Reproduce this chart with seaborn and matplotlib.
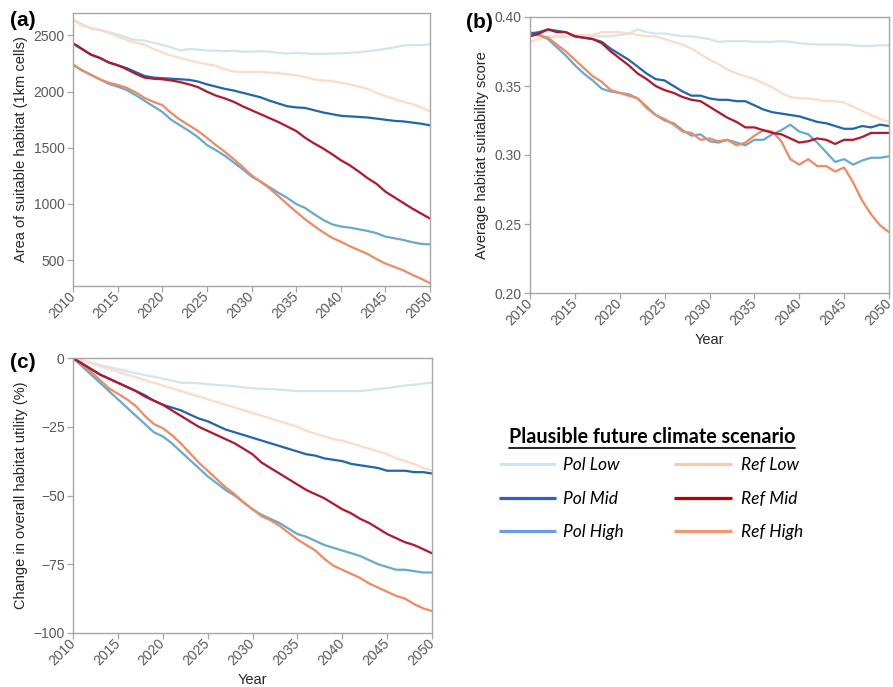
import numpy as np
import pandas as pd
import matplotlib
matplotlib.use("Agg")
import matplotlib.pyplot as plt
import seaborn as sns
from matplotlib.lines import Line2D

# ---------------- data ----------------
years = list(range(2010, 2051))
scenarios = ["Pol Low", "Pol Mid", "Pol High", "Ref Low", "Ref Mid", "Ref High"]

# (a) area of suitable habitat (1km cells)
area_pol_low = [2640, 2600, 2560, 2550, 2530, 2510, 2480, 2460, 2455, 2435, 2415, 2395, 2365, 2380, 2375,
                2365, 2365, 2360, 2365, 2355, 2355, 2360, 2355, 2345, 2340, 2345, 2340, 2335, 2335, 2340,
                2340, 2345, 2350, 2360, 2370, 2380, 2395, 2410, 2415, 2415, 2420]
area_pol_mid = [2430, 2380, 2330, 2300, 2260, 2235, 2210, 2175, 2140, 2125, 2120, 2115, 2110, 2105, 2090,
                2065, 2045, 2025, 2010, 1990, 1970, 1950, 1920, 1895, 1870, 1860, 1855, 1835, 1815, 1800,
                1785, 1780, 1775, 1770, 1760, 1750, 1740, 1735, 1725, 1715, 1700]
area_pol_high = [2240, 2190, 2150, 2110, 2070, 2045, 2015, 1970, 1920, 1870, 1820, 1750, 1700, 1650, 1595,
                 1525, 1480, 1430, 1370, 1310, 1245, 1200, 1150, 1100, 1055, 1000, 965, 910, 860, 820,
                 800, 790, 775, 760, 740, 710, 695, 680, 660, 645, 640]
area_ref_low = [2640, 2590, 2570, 2550, 2520, 2490, 2460, 2435, 2420, 2380, 2350, 2320, 2300, 2280, 2260,
                2245, 2230, 2200, 2180, 2175, 2175, 2175, 2170, 2165, 2155, 2145, 2130, 2110, 2100, 2095,
                2080, 2065, 2045, 2025, 1990, 1960, 1935, 1910, 1890, 1860, 1825]
area_ref_mid = [2430, 2380, 2330, 2300, 2260, 2235, 2200, 2160, 2125, 2115, 2110, 2100, 2085, 2065, 2040,
                2000, 1965, 1940, 1910, 1870, 1835, 1800, 1765, 1730, 1690, 1650, 1590, 1540, 1495, 1445,
                1390, 1345, 1290, 1230, 1180, 1110, 1060, 1010, 960, 915, 870]
area_ref_high = [2240, 2190, 2150, 2110, 2080, 2060, 2035, 1995, 1945, 1910, 1880, 1810, 1750, 1700, 1650,
                 1590, 1525, 1465, 1400, 1330, 1255, 1200, 1140, 1070, 1000, 930, 865, 805, 750, 700,
                 665, 625, 590, 555, 510, 470, 440, 410, 370, 335, 295]

# (b) average habitat suitability score
score_pol_low = [0.388, 0.386, 0.385, 0.386, 0.386, 0.386, 0.386, 0.386, 0.386, 0.386, 0.387, 0.388, 0.391,
                 0.389, 0.388, 0.388, 0.387, 0.386, 0.386, 0.385, 0.384, 0.382, 0.3825, 0.3825, 0.3825,
                 0.382, 0.382, 0.382, 0.3825, 0.382, 0.381, 0.3805, 0.380, 0.380, 0.380, 0.380, 0.3795,
                 0.379, 0.379, 0.3795, 0.3795]
score_pol_mid = [0.388, 0.389, 0.391, 0.390, 0.389, 0.386, 0.385, 0.384, 0.382, 0.377, 0.373, 0.369, 0.364,
                 0.359, 0.355, 0.354, 0.350, 0.346, 0.343, 0.343, 0.341, 0.340, 0.340, 0.339, 0.339,
                 0.336, 0.333, 0.331, 0.330, 0.329, 0.328, 0.326, 0.324, 0.323, 0.321, 0.319, 0.319,
                 0.321, 0.320, 0.322, 0.321]
score_pol_high = [0.389, 0.387, 0.384, 0.378, 0.372, 0.365, 0.359, 0.354, 0.348, 0.346, 0.345, 0.344, 0.341,
                  0.335, 0.329, 0.325, 0.323, 0.318, 0.314, 0.315, 0.310, 0.309, 0.311, 0.309, 0.307,
                  0.311, 0.311, 0.315, 0.318, 0.322, 0.317, 0.315, 0.309, 0.302, 0.295, 0.297, 0.293,
                  0.296, 0.298, 0.298, 0.299]
score_ref_low = [0.382, 0.384, 0.386, 0.386, 0.386, 0.387, 0.387, 0.387, 0.389, 0.389, 0.389, 0.388, 0.387,
                 0.386, 0.386, 0.384, 0.382, 0.380, 0.377, 0.373, 0.369, 0.366, 0.362, 0.359, 0.357,
                 0.355, 0.352, 0.349, 0.345, 0.342, 0.341, 0.341, 0.340, 0.339, 0.339, 0.338, 0.335,
                 0.332, 0.329, 0.326, 0.324]
score_ref_mid = [0.386, 0.388, 0.391, 0.389, 0.389, 0.386, 0.385, 0.384, 0.381, 0.375, 0.370, 0.365, 0.359,
                 0.355, 0.350, 0.347, 0.345, 0.342, 0.340, 0.339, 0.335, 0.331, 0.327, 0.324, 0.320,
                 0.320, 0.318, 0.316, 0.315, 0.312, 0.309, 0.310, 0.312, 0.311, 0.308, 0.311, 0.311,
                 0.313, 0.316, 0.316, 0.316]
score_ref_high = [0.387, 0.387, 0.385, 0.380, 0.375, 0.369, 0.363, 0.357, 0.353, 0.347, 0.345, 0.343, 0.341,
                  0.334, 0.329, 0.326, 0.322, 0.317, 0.316, 0.311, 0.312, 0.310, 0.311, 0.307, 0.309,
                  0.314, 0.318, 0.317, 0.310, 0.297, 0.293, 0.297, 0.292, 0.292, 0.288, 0.291, 0.280,
                  0.267, 0.257, 0.249, 0.244]

# (c) change in overall habitat utility (%)
change_pol_low = [0, -0.8, -1.7, -2.5, -3.3, -4, -4.8, -5.5, -6.2, -6.8, -7.5, -8.2, -9, -9, -9.2, -9.5,
                  -9.8, -10, -10.3, -10.7, -11, -11.2, -11.3, -11.5, -11.8, -12, -12, -12, -12, -12, -12,
                  -12, -12, -11.7, -11.3, -11, -10.5, -10, -9.7, -9.3, -9]
change_pol_mid = [0, -2, -4, -6, -7.5, -9, -10.5, -12, -13.5, -15.5, -17, -18, -19, -20.5, -22, -23,
                  -24.5, -26, -27, -28, -29, -30, -31, -32, -33, -34, -35, -35.5, -36.5, -37, -37.5,
                  -38.5, -39, -39.5, -40, -41, -41, -41, -41.5, -41.5, -42]
change_pol_high = [0, -3, -6, -9, -12, -15, -18, -21, -24, -27, -28.5, -31, -34, -37, -40, -43, -45.5,
                   -48, -50, -52.5, -55, -57, -58.5, -60, -62, -64, -65, -66.5, -68, -69, -70, -71, -72,
                   -73.5, -75, -76, -77, -77, -77.5, -78, -78]
change_ref_low = [0, -1, -2, -3, -4, -5, -6, -7, -8, -9, -10, -11, -12, -13, -14, -15, -16, -17, -18,
                  -19, -20, -21, -22, -23, -24, -25, -26.5, -27.5, -28.5, -29.5, -30, -31, -32, -33, -34,
                  -35, -36.5, -37.5, -38.5, -40, -41]
change_ref_mid = [0, -2, -4, -6, -7.5, -9, -10.5, -12, -14, -15.5, -17, -19, -21, -23, -25, -26.5, -28,
                  -29.5, -31, -33, -35, -38, -40, -42, -44, -46, -48, -49.5, -51, -53, -55, -56.5, -58.5,
                  -60, -62, -64, -65.5, -67, -68, -69.5, -71]
change_ref_high = [0, -2.5, -5, -8, -11, -13, -15, -17.5, -21, -24, -25.5, -28, -31, -34.5, -38, -41, -44,
                   -47, -49.5, -52.5, -55, -57.5, -59, -61, -63.5, -66, -68, -70, -73, -75.5, -77, -78.5,
                   -80, -82, -83.5, -85, -86.5, -87.5, -89.5, -91, -92]

area_ticks = [500, 1000, 1500, 2000, 2500]
score_ticks = [0.20, 0.25, 0.30, 0.35, 0.40]
change_ticks = [-100, -75, -50, -25, 0]
year_ticks = list(range(2010, 2051, 5))

line_colors = {"Pol Low": "#d1e5f0", "Pol Mid": "#2166ac", "Pol High": "#67a9cf",
               "Ref Low": "#fddbc7", "Ref Mid": "#b2182b", "Ref High": "#ef8a62"}
legend_colors = {"Pol Low": "#cce4f6", "Pol Mid": "#2d5fd0", "Pol High": "#6a9be6",
                 "Ref Low": "#f9cab0", "Ref Mid": "#c00000", "Ref High": "#f29a6c"}
draw_order = ["Pol Low", "Ref Low", "Pol High", "Ref High", "Pol Mid", "Ref Mid"]


def long_frame(series):
    rows = []
    for name, vals in zip(scenarios, series):
        rows.append(pd.DataFrame({"Year": years, "value": vals, "scenario": name}))
    return pd.concat(rows, ignore_index=True)


df_a = long_frame([area_pol_low, area_pol_mid, area_pol_high, area_ref_low, area_ref_mid, area_ref_high])
df_b = long_frame([score_pol_low, score_pol_mid, score_pol_high, score_ref_low, score_ref_mid, score_ref_high])
df_c = long_frame([change_pol_low, change_pol_mid, change_pol_high, change_ref_low, change_ref_mid, change_ref_high])

# ---------------- style ----------------
sns.set_theme(style="white")
plt.rcParams["font.family"] = ["Liberation Sans", "DejaVu Sans"]
plt.rcParams["axes.unicode_minus"] = True

W, H = 893, 687
fig = plt.figure(figsize=(W / 100, H / 100), dpi=100)


def box(l, t, r, b):
    return [l / W, 1 - b / H, (r - l) / W, (b - t) / H]


ax_a = fig.add_axes(box(73, 13, 430, 286))
ax_b = fig.add_axes(box(530, 17, 889, 293))
ax_c = fig.add_axes(box(73, 358, 432, 633))

spine_col = "#a6a6a6"
tick_col = "#595959"

for ax, df, yl, yt, ylab, xlab in [
    (ax_a, df_a, (270, 2700), area_ticks, "Area of suitable habitat (1km cells)", None),
    (ax_b, df_b, (0.20, 0.40), score_ticks, "Average habitat suitability score", "Year"),
    (ax_c, df_c, (-100, 0), change_ticks, "Change in overall habitat utility (%)", "Year"),
]:
    sns.lineplot(data=df, x="Year", y="value", hue="scenario", hue_order=draw_order,
                 palette=line_colors, ax=ax, legend=False, linewidth=1.6)
    ax.set_xlim(2010, 2050)
    ax.set_ylim(*yl)
    ax.set_xticks(year_ticks)
    ax.set_yticks(yt)
    if ax is ax_b:
        ax.set_yticklabels([f"{v:.2f}" for v in yt])
    for s in ax.spines.values():
        s.set_color(spine_col)
        s.set_linewidth(1.0)
    ax.tick_params(axis="both", which="both", direction="out", length=4, width=0.9,
                   color=spine_col, labelcolor=tick_col, labelsize=10, pad=2,
                   bottom=True, left=True)
    for lab in ax.get_xticklabels():
        lab.set_rotation(45)
        lab.set_ha("right")
        lab.set_va("center")
        lab.set_rotation_mode("anchor")
    ax.set_ylabel(ylab, fontsize=10.5, color="#262626", labelpad=4)
    if xlab:
        ax.set_xlabel(xlab, fontsize=10.5, color="#262626", labelpad=3)
    else:
        ax.set_xlabel("")
    ax.grid(False)

# panel letters
for txt, x, y in [("(a)", 10, 20), ("(b)", 466, 22), ("(c)", 10, 363)]:
    fig.text(x / W, 1 - y / H, txt, fontsize=15, fontweight="bold", color="black",
             ha="left", va="center")

# ---------------- legend ----------------
leg_font = ["Lato", "DejaVu Sans"]
fig.text(652 / W, 1 - 443 / H, "Plausible future climate scenario", ha="center", va="baseline",
         fontsize=14.2, fontweight="bold", family=leg_font, color="black")
fig.add_artist(Line2D([509 / W, 795 / W], [1 - 447.5 / H, 1 - 447.5 / H],
                      transform=fig.transFigure, color="black", linewidth=1.2))

rows_y = [464, 498, 531]
cols = [(499, 556, 563, ["Pol Low", "Pol Mid", "Pol High"]),
        (674, 732, 741, ["Ref Low", "Ref Mid", "Ref High"])]
for x0, x1, xt, names in cols:
    for name, y in zip(names, rows_y):
        fig.add_artist(Line2D([x0 / W, x1 / W], [1 - y / H, 1 - y / H], transform=fig.transFigure,
                              color=legend_colors[name], linewidth=2.3, solid_capstyle="butt"))
        fig.text(xt / W, 1 - (y + 1) / H, name, ha="left", va="center", fontsize=12.5,
                 style="italic", family=leg_font, color="black")

fig.savefig("out.png", dpi=100)
